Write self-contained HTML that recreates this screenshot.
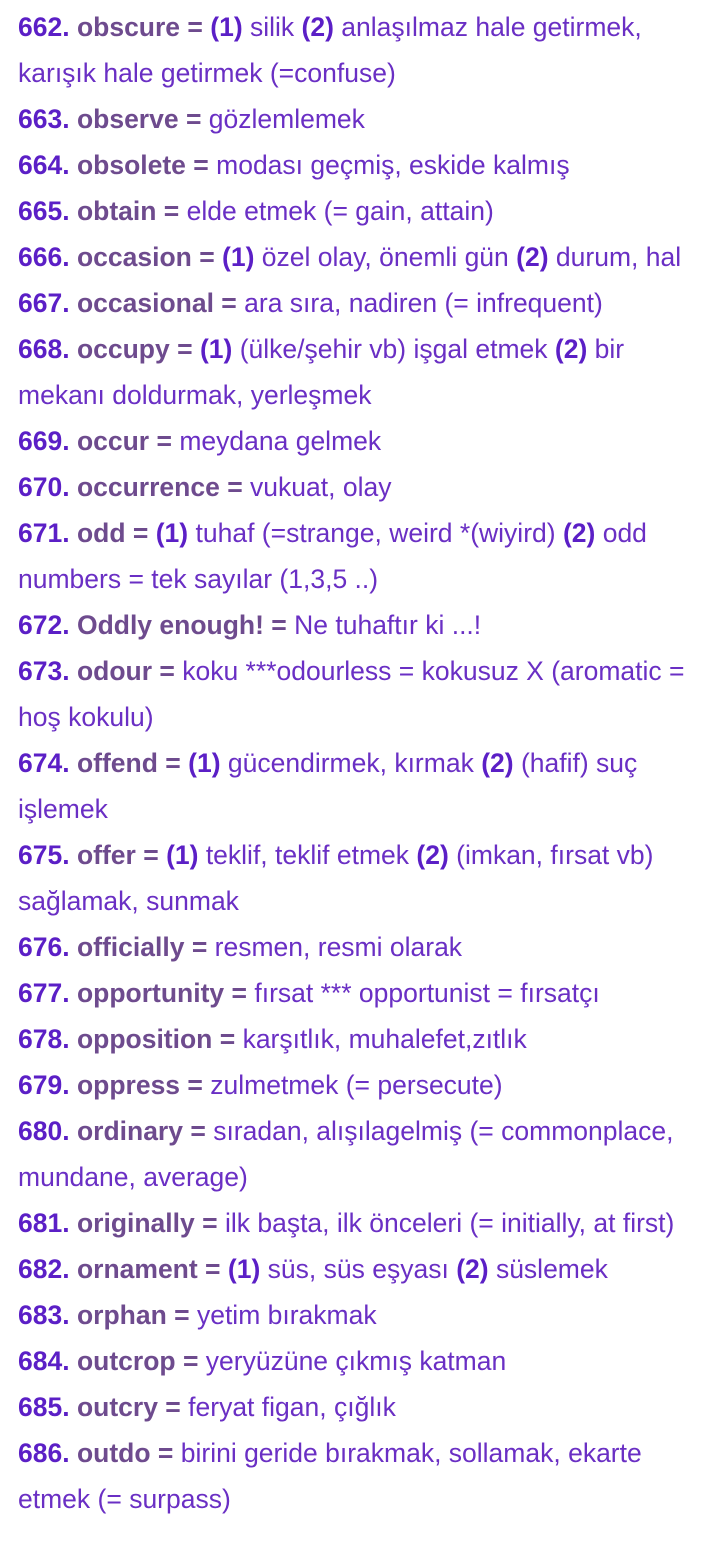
<!DOCTYPE html>
<html><head><meta charset="utf-8"><style>
html,body{margin:0;padding:0;background:#fff;width:720px;height:1560px;overflow:hidden}
.l{position:absolute;left:18px;white-space:nowrap;font-family:"Liberation Sans",sans-serif;font-size:26.5px;color:#6a2fc4;line-height:46px;height:46px}
.n{color:#5b1fc6;font-weight:bold}
.w{color:#6e4b8e;font-weight:bold}
.b{color:#5b1fc6;font-weight:bold}
</style></head><body>
<div class="l" style="top:4px"><span class="n">662.</span> <span class="w">obscure =</span> <span class="b">(1)</span> silik <span class="b">(2)</span> anlaşılmaz hale getirmek,</div>
<div class="l" style="top:50px">karışık hale getirmek (=confuse)</div>
<div class="l" style="top:96px"><span class="n">663.</span> <span class="w">observe =</span> gözlemlemek</div>
<div class="l" style="top:142px"><span class="n">664.</span> <span class="w">obsolete =</span> modası geçmiş, eskide kalmış</div>
<div class="l" style="top:188px"><span class="n">665.</span> <span class="w">obtain =</span> elde etmek (= gain, attain)</div>
<div class="l" style="top:234px"><span class="n">666.</span> <span class="w">occasion =</span> <span class="b">(1)</span> özel olay, önemli gün <span class="b">(2)</span> durum, hal</div>
<div class="l" style="top:280px"><span class="n">667.</span> <span class="w">occasional =</span> ara sıra, nadiren (= infrequent)</div>
<div class="l" style="top:326px"><span class="n">668.</span> <span class="w">occupy =</span> <span class="b">(1)</span> (ülke/şehir vb) işgal etmek <span class="b">(2)</span> bir</div>
<div class="l" style="top:372px">mekanı doldurmak, yerleşmek</div>
<div class="l" style="top:418px"><span class="n">669.</span> <span class="w">occur =</span> meydana gelmek</div>
<div class="l" style="top:464px"><span class="n">670.</span> <span class="w">occurrence =</span> vukuat, olay</div>
<div class="l" style="top:510px"><span class="n">671.</span> <span class="w">odd =</span> <span class="b">(1)</span> tuhaf (=strange, weird *(wiyird) <span class="b">(2)</span> odd</div>
<div class="l" style="top:556px">numbers = tek sayılar (1,3,5 ..)</div>
<div class="l" style="top:602px"><span class="n">672.</span> <span class="w">Oddly enough! =</span> Ne tuhaftır ki ...!</div>
<div class="l" style="top:648px"><span class="n">673.</span> <span class="w">odour =</span> koku ***odourless = kokusuz X (aromatic =</div>
<div class="l" style="top:694px">hoş kokulu)</div>
<div class="l" style="top:740px"><span class="n">674.</span> <span class="w">offend =</span> <span class="b">(1)</span> gücendirmek, kırmak <span class="b">(2)</span> (hafif) suç</div>
<div class="l" style="top:786px">işlemek</div>
<div class="l" style="top:832px"><span class="n">675.</span> <span class="w">offer =</span> <span class="b">(1)</span> teklif, teklif etmek <span class="b">(2)</span> (imkan, fırsat vb)</div>
<div class="l" style="top:878px">sağlamak, sunmak</div>
<div class="l" style="top:924px"><span class="n">676.</span> <span class="w">officially =</span> resmen, resmi olarak</div>
<div class="l" style="top:970px"><span class="n">677.</span> <span class="w">opportunity =</span> fırsat *** opportunist = fırsatçı</div>
<div class="l" style="top:1016px"><span class="n">678.</span> <span class="w">opposition =</span> karşıtlık, muhalefet,zıtlık</div>
<div class="l" style="top:1062px"><span class="n">679.</span> <span class="w">oppress =</span> zulmetmek (= persecute)</div>
<div class="l" style="top:1108px"><span class="n">680.</span> <span class="w">ordinary =</span> sıradan, alışılagelmiş (= commonplace,</div>
<div class="l" style="top:1154px">mundane, average)</div>
<div class="l" style="top:1200px"><span class="n">681.</span> <span class="w">originally =</span> ilk başta, ilk önceleri (= initially, at first)</div>
<div class="l" style="top:1246px"><span class="n">682.</span> <span class="w">ornament =</span> <span class="b">(1)</span> süs, süs eşyası <span class="b">(2)</span> süslemek</div>
<div class="l" style="top:1292px"><span class="n">683.</span> <span class="w">orphan =</span> yetim bırakmak</div>
<div class="l" style="top:1338px"><span class="n">684.</span> <span class="w">outcrop =</span> yeryüzüne çıkmış katman</div>
<div class="l" style="top:1384px"><span class="n">685.</span> <span class="w">outcry =</span> feryat figan, çığlık</div>
<div class="l" style="top:1430px"><span class="n">686.</span> <span class="w">outdo =</span> birini geride bırakmak, sollamak, ekarte</div>
<div class="l" style="top:1476px">etmek (= surpass)</div>
</body></html>
